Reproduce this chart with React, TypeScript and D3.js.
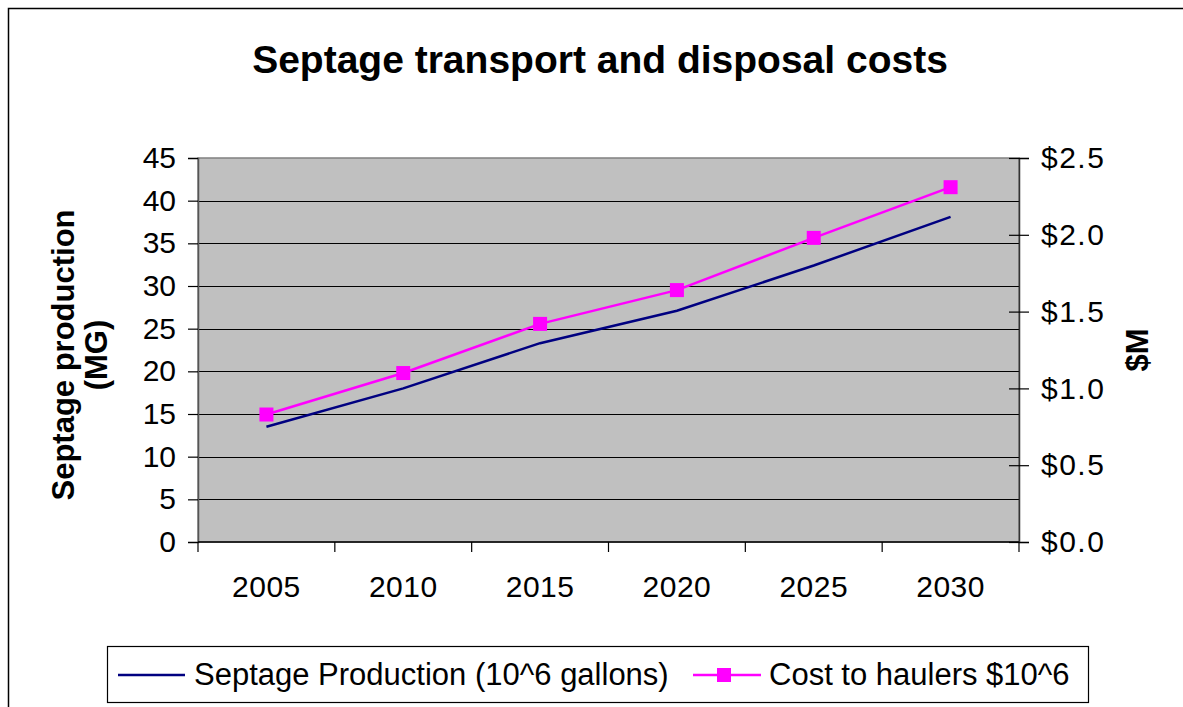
import React, { useRef, useEffect } from 'react';
import * as d3 from 'd3';

const years = ['2005', '2010', '2015', '2020', '2025', '2030'];
const production = [13.5, 18.0, 23.3, 27.1, 32.4, 38.1];
const cost = [0.83, 1.1, 1.42, 1.64, 1.98, 2.31];
const leftTicks = [0, 5, 10, 15, 20, 25, 30, 35, 40, 45];
const rightTicks = [0, 0.5, 1.0, 1.5, 2.0, 2.5];

const seriesNames = ['Septage Production (10^6 gallons)', 'Cost to haulers $10^6'];

function App() {
  const ref = useRef<SVGSVGElement>(null);
  const width = 1183;
  const height = 707;
  const plot = { left: 198, right: 1019, top: 158, bottom: 542 };
  const font = '"Liberation Sans", Arial, sans-serif';

  useEffect(() => {
    const svg = d3.select(ref.current);
    svg.selectAll('*').remove();

    // outer chart border (only top and left are inside the picture)
    svg.append('rect')
      .attr('x', 8.5).attr('y', 8.5)
      .attr('width', width + 20).attr('height', height + 20)
      .attr('fill', '#fff').attr('stroke', '#000').attr('stroke-width', 1.5);

    const x = d3.scaleBand().domain(years).range([plot.left, plot.right]);
    const yL = d3.scaleLinear().domain([0, 45]).range([plot.bottom, plot.top]);
    const yR = d3.scaleLinear().domain([0, 2.5]).range([plot.bottom, plot.top]);

    svg.append('rect')
      .attr('x', plot.left).attr('y', plot.top)
      .attr('width', plot.right - plot.left).attr('height', plot.bottom - plot.top)
      .attr('fill', '#c0c0c0').attr('stroke', '#808080').attr('stroke-width', 1.5);

    // gridlines
    svg.append('g').selectAll('line')
      .data(leftTicks.filter((d) => d > 0 && d < 45))
      .join('line')
      .attr('x1', plot.left).attr('x2', plot.right)
      .attr('y1', (d) => Math.round(yL(d)) + 0.5).attr('y2', (d) => Math.round(yL(d)) + 0.5)
      .attr('stroke', '#000').attr('stroke-width', 1.2);

    // left axis
    const gl = svg.append('g').attr('transform', `translate(${plot.left},0)`)
      .call(d3.axisLeft(yL).tickValues(leftTicks).tickSize(10).tickPadding(12).tickFormat(d3.format('d')));
    gl.select('.domain').attr('stroke', '#555').attr('stroke-width', 1.5);

    // right axis
    const gr = svg.append('g').attr('transform', `translate(${plot.right},0)`)
      .call(d3.axisRight(yR).tickValues(rightTicks).tickSize(10).tickPadding(12)
        .tickFormat((d) => '$' + d3.format('.1f')(d as number)));
    gr.select('.domain').attr('stroke', '#333').attr('stroke-width', 1.5);
    gr.selectAll('.tick line').attr('x1', -10);
    gr.selectAll('.tick text').attr('letter-spacing', 1.5);

    // bottom axis with ticks on category boundaries
    svg.append('line')
      .attr('x1', plot.left).attr('x2', plot.right)
      .attr('y1', plot.bottom).attr('y2', plot.bottom)
      .attr('stroke', '#000').attr('stroke-width', 1.5);
    const bounds = years.map((d) => x(d) as number).concat([plot.right]);
    svg.append('g').selectAll('line').data(bounds).join('line')
      .attr('x1', (d) => d).attr('x2', (d) => d)
      .attr('y1', plot.bottom).attr('y2', plot.bottom + 10)
      .attr('stroke', '#000').attr('stroke-width', 1.2);
    svg.append('g').attr('class', 'tick').selectAll('text').data(years).join('text')
      .attr('x', (d) => (x(d) as number) + x.bandwidth() / 2)
      .attr('y', 597)
      .attr('text-anchor', 'middle')
      .attr('letter-spacing', 0.5)
      .text((d) => d);

    svg.selectAll('.tick text').attr('font-size', 30).attr('font-family', font).attr('fill', '#000');
    svg.selectAll('.tick line').attr('stroke', '#000').attr('stroke-width', 1.2);

    const cx = (d: string) => (x(d) as number) + x.bandwidth() / 2;

    svg.append('path')
      .datum(production)
      .attr('d', d3.line<number>().x((d, i) => cx(years[i])).y((d) => yL(d)))
      .attr('fill', 'none').attr('stroke', '#000080').attr('stroke-width', 2.5);

    svg.append('path')
      .datum(cost)
      .attr('d', d3.line<number>().x((d, i) => cx(years[i])).y((d) => yR(d)))
      .attr('fill', 'none').attr('stroke', '#ff00ff').attr('stroke-width', 2.5);
    svg.append('g').selectAll('rect').data(cost).join('rect')
      .attr('x', (d, i) => cx(years[i]) - 7).attr('y', (d) => yR(d) - 7)
      .attr('width', 14).attr('height', 14).attr('fill', '#ff00ff');

    // titles
    svg.append('text')
      .attr('x', 600).attr('y', 73).attr('text-anchor', 'middle')
      .attr('font-size', 39).attr('font-weight', 'bold')
      .text('Septage transport and disposal costs');

    const yt = svg.append('text')
      .attr('transform', `translate(0,355) rotate(-90)`)
      .attr('text-anchor', 'middle')
      .attr('font-size', 31).attr('font-weight', 'bold');
    yt.append('tspan').attr('x', 0).attr('y', 74).text('Septage production');
    yt.append('tspan').attr('x', 0).attr('y', 107).text('(MG)');

    svg.append('text')
      .attr('transform', `translate(1148,350) rotate(-90)`)
      .attr('text-anchor', 'middle')
      .attr('font-size', 31).attr('font-weight', 'bold')
      .text('$M');

    // legend
    svg.append('rect')
      .attr('x', 107.5).attr('y', 646.5).attr('width', 981).attr('height', 56)
      .attr('fill', '#fff').attr('stroke', '#000').attr('stroke-width', 1.2);
    svg.append('line')
      .attr('x1', 118).attr('x2', 185).attr('y1', 675).attr('y2', 675)
      .attr('stroke', '#000080').attr('stroke-width', 2.5);
    svg.append('text').attr('x', 194).attr('y', 685).attr('font-size', 31).text(seriesNames[0]);
    svg.append('line')
      .attr('x1', 693).attr('x2', 761).attr('y1', 675).attr('y2', 675)
      .attr('stroke', '#ff00ff').attr('stroke-width', 2.5);
    svg.append('rect')
      .attr('x', 717).attr('y', 668).attr('width', 14).attr('height', 14).attr('fill', '#ff00ff');
    svg.append('text').attr('x', 769).attr('y', 685).attr('font-size', 31).text(seriesNames[1]);

    svg.selectAll('text').attr('font-family', font).attr('fill', '#000');
  }, []);

  return (
    <svg
      ref={ref}
      width={width}
      height={height}
      style={{ position: 'absolute', left: 0, top: 0, background: '#fff' }}
    />
  );
}

export default App;
